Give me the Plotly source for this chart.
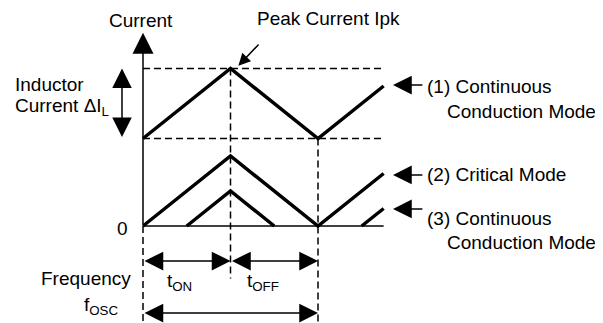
import plotly.graph_objects as go

# time in units of t_ON, current in units of the critical-mode peak
t_on = 1.0
t_off = 1.0
t_end = 2.75

i_peak = 2.25      # peak current Ipk (continuous mode)
i_valley = 1.25    # valley current (continuous mode)

mode1_t = [0, 1, 2, 2.75]
mode1_i = [1.25, 2.25, 1.25, 2.0]

mode2_t = [0, 1, 2, 2.75]
mode2_i = [0, 1, 0, 0.75]

mode3_t = [0.5, 1, 1.5, None, 2.5, 2.75]
mode3_i = [0, 0.5, 0, None, 0, 0.25]

period = t_on + t_off
y_bottom = -1.4

FONT = dict(family="Liberation Sans, Arial, sans-serif", size=19, color="black")
BLACK = "black"

fig = go.Figure()

thick = dict(color=BLACK, width=3.5)
dash = dict(color=BLACK, width=1.5, dash="7px,4px")
thin = dict(color=BLACK, width=1.5)

# dashed guides
fig.add_trace(go.Scatter(x=[0, t_end], y=[i_peak, i_peak], mode="lines", line=dash))
fig.add_trace(go.Scatter(x=[0, t_end], y=[i_valley, i_valley], mode="lines", line=dash))
fig.add_trace(go.Scatter(x=[0, 0], y=[0, y_bottom], mode="lines", line=dash))
fig.add_trace(go.Scatter(x=[t_on, t_on], y=[i_peak, -0.75], mode="lines", line=dash))
fig.add_trace(go.Scatter(x=[period, period], y=[i_valley, y_bottom], mode="lines", line=dash))

# zero line
fig.add_trace(go.Scatter(x=[0, t_end], y=[0, 0], mode="lines", line=thin))

# waveforms
fig.add_trace(go.Scatter(x=mode1_t, y=mode1_i, mode="lines", line=thick))
fig.add_trace(go.Scatter(x=mode2_t, y=mode2_i, mode="lines", line=thick))
fig.add_trace(go.Scatter(x=mode3_t, y=mode3_i, mode="lines", line=thick, connectgaps=False))


def arrow(x, y, ax, ay, both=False, size=2.5):
    fig.add_annotation(x=x, y=y, ax=ax, ay=ay, xref="x", yref="y", axref="x", ayref="y",
                       text="", showarrow=True, arrowhead=2, arrowsize=size, arrowwidth=1.5,
                       arrowcolor=BLACK, standoff=0, startstandoff=0,
                       startarrowhead=2, startarrowsize=size,
                       arrowside="end+start" if both else "end")


def label(x, y, text, anchor="left"):
    fig.add_annotation(x=x, y=y, xref="x", yref="y", text=text, showarrow=False,
                       xanchor=anchor, yanchor="middle", font=FONT)


# current axis
arrow(0, 2.76, 0, 0, size=2.8)

# inductor ripple arrow
arrow(-0.24, i_peak, -0.24, i_valley, both=True, size=2.6)

# time arrows
arrow(t_on, -0.5, 0, -0.5, both=True)
arrow(period, -0.5, t_on, -0.5, both=True)
arrow(period, -1.243, 0, -1.243, both=True)

# peak pointer
arrow(1.09, 2.29, 1.337, 2.614, size=1.6)

# mode pointers
arrow(2.857, 2.014, 3.21, 2.014)
arrow(2.857, 0.729, 3.21, 0.729)
arrow(2.857, 0.243, 3.21, 0.243)

label(-0.02, 2.93, "Current", "center")
label(1.28, 2.97, "Peak Current Ipk")
label(-1.486, 2.02, "Inductor")
label(-1.486, 1.7, "Current ΔI<sub>L</sub>")
label(-0.24, -0.04, "0", "center")
label(-0.114, -0.743, "Frequency", "right")
label(-0.48, -1.143, "f<sub>OSC</sub>", "center")
label(0.42, -0.8, "t<sub>ON</sub>", "center")
label(1.37, -0.8, "t<sub>OFF</sub>", "center")
label(3.223, 1.986, "(1) Continuous")
label(3.45, 1.629, "Conduction Mode")
label(3.223, 0.729, "(2) Critical Mode")
label(3.223, 0.114, "(3) Continuous")
label(3.45, -0.229, "Conduction Mode")

# the page body adds an 8px margin, so the figure covers window pixels 8..603 / 8..323
fig.update_xaxes(visible=False, range=[(8 - 143) / 87.5, 460 / 87.5])
fig.update_yaxes(visible=False, range=[-97 / 70, (226 - 8) / 70])
fig.update_layout(width=595, height=315, margin=dict(l=0, r=0, t=0, b=0),
                  showlegend=False, plot_bgcolor="white", paper_bgcolor="white")

fig.write_html("out.html")
